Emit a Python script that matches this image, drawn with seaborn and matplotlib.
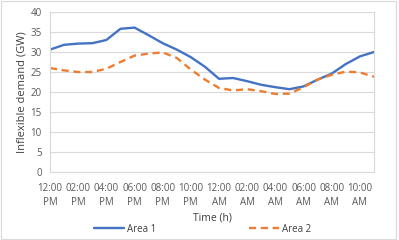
import matplotlib
matplotlib.use("Agg")
import matplotlib.pyplot as plt
import numpy as np
import pandas as pd
import seaborn as sns

hours = list(range(24))
tick_labels = ["12:00\nPM", "02:00\nPM", "04:00\nPM", "06:00\nPM", "08:00\nPM", "10:00\nPM",
               "12:00\nAM", "02:00\nAM", "04:00\nAM", "06:00\nAM", "08:00\nAM", "10:00\nAM"]

area1 = [30.6, 31.8, 32.1, 32.2, 33.0, 35.8, 36.1, 34.2, 32.2, 30.6, 28.7, 26.3,
         23.3, 23.5, 22.7, 21.8, 21.2, 20.7, 21.4, 23.1, 24.6, 27.0, 28.9, 30.0]
area2 = [26.0, 25.4, 25.0, 25.0, 25.8, 27.5, 29.1, 29.6, 29.9, 28.5, 25.6, 23.1,
         21.0, 20.4, 20.7, 20.2, 19.5, 19.6, 21.2, 23.1, 24.3, 25.1, 24.9, 23.8]

df = pd.DataFrame({
    "hour": hours * 2,
    "demand": area1 + area2,
    "series": ["Area 1"] * 24 + ["Area 2"] * 24,
})

sns.set_theme(style="white")
plt.rcParams["font.family"] = ["Open Sans", "DejaVu Sans"]

fig = plt.figure(figsize=(3.99, 2.4), dpi=100)
ax = fig.add_axes([50 / 399, 1 - 172 / 240, 324 / 399, 160 / 240])

palette = {"Area 1": "#4472C4", "Area 2": "#ED7D31"}
sns.lineplot(data=df, x="hour", y="demand", hue="series", style="series",
             palette=palette, dashes={"Area 1": "", "Area 2": (3, 2)},
             linewidth=1.7, ax=ax, legend=False)

ax.set_xlim(0, 23)
ax.set_ylim(0, 40)
ax.set_yticks(np.arange(0, 41, 5))
ax.set_xticks(hours[::2])
ax.set_xticklabels(tick_labels, linespacing=1.35)
ax.tick_params(axis="both", labelsize=7, colors="#595959", length=0)
ax.tick_params(axis="x", pad=8)
ax.tick_params(axis="y", pad=6)
ax.grid(axis="y", color="#D9D9D9", linewidth=0.8)
ax.spines["top"].set_visible(False)
for side in ["left", "bottom", "right"]:
    ax.spines[side].set_color("#D9D9D9")
    ax.spines[side].set_linewidth(0.8)

ax.set_xlabel("Time (h)", fontsize=7.5, color="#404040", labelpad=3)
ax.set_ylabel("Inflexible demand (GW)", fontsize=8, color="#404040", labelpad=2)

handles = [plt.Line2D([], [], color="#4472C4", lw=1.7),
           plt.Line2D([], [], color="#ED7D31", lw=1.7, dashes=(3, 2))]
fig.legend(handles, ["Area 1", "Area 2"], loc="center", bbox_to_anchor=(0.507, 1 - 229 / 240),
           ncol=2, frameon=False, fontsize=7, handlelength=3.1, columnspacing=9.5,
           handletextpad=0.3, labelcolor="#404040")

fig.patches.append(plt.Rectangle((0.002, 0.004), 0.99, 0.992, transform=fig.transFigure,
                                 fill=False, edgecolor="#D9D9D9", linewidth=0.8))

fig.savefig("out.png", dpi=100)
